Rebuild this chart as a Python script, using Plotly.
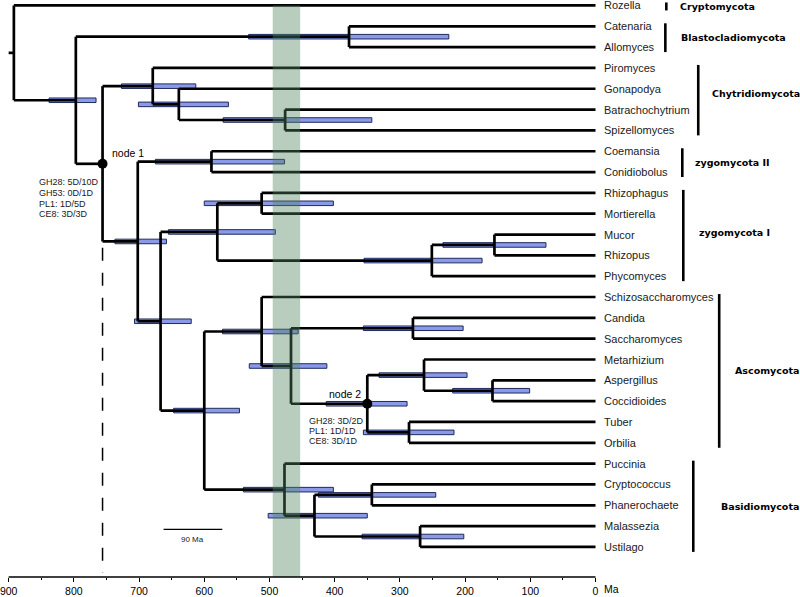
import plotly.graph_objects as go

# ---------------- data ----------------
leaves = ["Rozella", "Catenaria", "Allomyces", "Piromyces", "Gonapodya",
          "Batrachochytrium", "Spizellomyces", "Coemansia", "Conidiobolus",
          "Rhizophagus", "Mortierella", "Mucor", "Rhizopus", "Phycomyces",
          "Schizosaccharomyces", "Candida", "Saccharomyces", "Metarhizium",
          "Aspergillus", "Coccidioides", "Tuber", "Orbilia", "Puccinia",
          "Cryptococcus", "Phanerochaete", "Malassezia", "Ustilago"]

node_names = ["root", "A", "Blasto", "node1", "Chytrid", "GBS", "BS", "B", "CoCo",
              "C", "D", "E", "F", "G", "H", "I", "J", "K", "node2", "M", "N",
              "O", "P", "Q", "R", "S"]
node_children = [
    ("Rozella", "A"), ("Blasto", "node1"), ("Catenaria", "Allomyces"),
    ("Chytrid", "B"), ("Piromyces", "GBS"), ("Gonapodya", "BS"),
    ("Batrachochytrium", "Spizellomyces"), ("CoCo", "C"),
    ("Coemansia", "Conidiobolus"), ("D", "H"), ("E", "F"),
    ("Rhizophagus", "Mortierella"), ("G", "Phycomyces"), ("Mucor", "Rhizopus"),
    ("I", "P"), ("Schizosaccharomyces", "J"), ("K", "node2"),
    ("Candida", "Saccharomyces"), ("M", "O"), ("Metarhizium", "N"),
    ("Aspergillus", "Coccidioides"), ("Tuber", "Orbilia"), ("Puccinia", "Q"),
    ("R", "S"), ("Cryptococcus", "Phanerochaete"), ("Malassezia", "Ustilago")]
node_age = [892, 797, 378, 756, 679, 639, 476, 702, 589, 667, 580, 512, 251, 155,
            600, 512, 467, 280, 350, 263, 158, 286, 477, 431, 343, 269]
ci_old = [None, 838, 532, None, 727, 701, 571, 737, 675, 707, 655, 600, 355, 234,
          647, 572, 531, 356, 413, 332, 219, 356, 540, 502, 425, 358]
ci_young = [None, 766, 225, None, 613, 563, 343, 658, 477, 620, 491, 402, 174, 76,
            546, 456, 412, 203, 289, 197, 101, 217, 402, 350, 245, 202]
leaf_age = 0
root_stem_age = 900
band_ages = [495, 453]
scale_bar_ma = 90

clade_names = ["Cryptomycota", "Blastocladiomycota", "Chytridiomycota",
               "zygomycota II", "zygomycota I", "Ascomycota", "Basidiomycota"]
clade_first = ["Rozella", "Catenaria", "Piromyces", "Coemansia", "Rhizophagus",
               "Schizosaccharomyces", "Puccinia"]
clade_last = ["Rozella", "Allomyces", "Spizellomyces", "Conidiobolus", "Phycomyces",
              "Orbilia", "Ustilago"]

node1_stats = ["GH28: 5D/10D", "GH53: 0D/1D", "PL1: 1D/5D", "CE8: 3D/3D"]
node2_stats = ["GH28: 3D/2D", "PL1: 1D/1D", "CE8: 3D/1D"]

tick_vals = [900, 800, 700, 600, 500, 400, 300, 200, 100, 0]
tick_text = ["900", "800", "700", "600", "500", "400", "300", "200", "100", "0"]
minor_vals = [850, 750, 650, 550, 450, 350, 250, 150, 50]

# ---------------- layout constants (pixels) ----------------
W, H = 800, 597
PX_PER_MA = 0.6537
X0_PX = 595          # pixel of 0 Ma
Y_TOP = 5.5          # pixel of first leaf
ROW = 20.97          # pixels per leaf row
AXIS_PX = 581        # pixel of time axis


def px_to_ma(px):
    return (X0_PX - px) / PX_PER_MA


def py_to_row(py):
    return (py - Y_TOP) / ROW


x_range = [px_to_ma(0), px_to_ma(W)]
y_range = [py_to_row(AXIS_PX), py_to_row(0)]

BR_X_PX = [666, 665, 698, 682, 683, 719, 693]
LBL_X_PX = [678, 679, 710, 693, 697, 733, 719]
LBL_DY_PX = [0, 0, -7, 0, -3, 0, 0]

BLUE = "#8b9ae8"
BLUE_EDGE = "#1f2a5c"
TXT = "#1a1a1a"
FONT = "Liberation Sans"

# ---------------- compute tree geometry ----------------
leaf_y = {n: i for i, n in enumerate(leaves)}
idx = {n: i for i, n in enumerate(node_names)}
ypos = dict(leaf_y)
age = {n: leaf_age for n in leaves}
for n, a in zip(node_names, node_age):
    age[n] = a


def get_y(n):
    if n in ypos:
        return ypos[n]
    c1, c2 = node_children[idx[n]]
    ypos[n] = (get_y(c1) + get_y(c2)) / 2
    return ypos[n]


for n in node_names:
    get_y(n)

lx, ly = [], []
lx += [root_stem_age, age["root"], None]
ly += [ypos["root"], ypos["root"], None]
for n, ch in zip(node_names, node_children):
    c1, c2 = ch
    lx += [age[n], age[n], None]
    ly += [ypos[c1], ypos[c2], None]
    for c in ch:
        lx += [age[n], age[c], None]
        ly += [ypos[c], ypos[c], None]

fig = go.Figure()

shapes = []
half = 2.3 / ROW
for n, o, yv in zip(node_names, ci_old, ci_young):
    if o is None:
        continue
    y = ypos[n]
    shapes.append(dict(type="rect", xref="x", yref="y", x0=o, x1=yv,
                       y0=y - half, y1=y + half, fillcolor=BLUE,
                       line=dict(color=BLUE_EDGE, width=1), layer="below"))

fig.add_trace(go.Scatter(x=lx, y=ly, mode="lines",
                         line=dict(color="black", width=2.7),
                         hoverinfo="skip", showlegend=False))

fig.add_trace(go.Scatter(x=[age["node1"], age["node1"]],
                         y=[ypos["B"] + 0.3, py_to_row(577)], mode="lines",
                         line=dict(color="black", width=1.5, dash="13px,12px"),
                         hoverinfo="skip", showlegend=False))

fig.add_trace(go.Scatter(x=[age["node1"], age["node2"]],
                         y=[ypos["node1"], ypos["node2"]], mode="markers",
                         marker=dict(color="black", size=10),
                         hoverinfo="skip", showlegend=False))

shapes.append(dict(type="rect", xref="x", yref="y", x0=band_ages[0], x1=band_ages[1],
                   y0=0, y1=y_range[0], fillcolor="rgb(80,130,93)", opacity=0.4,
                   line=dict(width=0), layer="above"))

shapes.append(dict(type="line", xref="x", yref="paper", x0=tick_vals[0], x1=tick_vals[-1],
                   y0=0, y1=0, line=dict(color="black", width=1.5)))

for i, (f, l) in enumerate(zip(clade_first, clade_last)):
    xb = px_to_ma(BR_X_PX[i])
    shapes.append(dict(type="line", xref="x", yref="y", x0=xb, x1=xb,
                       y0=leaf_y[f] - 3 / ROW, y1=leaf_y[l] + 5 / ROW,
                       line=dict(color="black", width=2.6)))

sb_x0 = px_to_ma(162)
sb_y = py_to_row(533)
shapes.append(dict(type="line", xref="x", yref="y", x0=sb_x0, x1=sb_x0 - scale_bar_ma,
                   y0=sb_y, y1=sb_y, line=dict(color="black", width=1.2)))

annotations = []
for n in leaves:
    annotations.append(dict(x=px_to_ma(602), y=leaf_y[n], xref="x", yref="y",
                            text=n, showarrow=False, xanchor="left", yanchor="middle",
                            font=dict(family=FONT, size=11, color=TXT)))

for i, name in enumerate(clade_names):
    f, l = clade_first[i], clade_last[i]
    ym = (leaf_y[f] - 3 / ROW + leaf_y[l] + 5 / ROW) / 2 + LBL_DY_PX[i] / ROW
    annotations.append(dict(x=px_to_ma(LBL_X_PX[i]), y=ym, xref="x", yref="y",
                            text="<b>" + name + "</b>", showarrow=False,
                            xanchor="left", yanchor="middle",
                            font=dict(family="DejaVu Sans", size=9.5, color="black")))

annotations.append(dict(x=px_to_ma(108), y=py_to_row(154), xref="x", yref="y",
                        text="node 1", showarrow=False, xanchor="left", yanchor="middle",
                        font=dict(family=FONT, size=10.5, color="black")))
for k, s in enumerate(node1_stats):
    annotations.append(dict(x=px_to_ma(35), y=py_to_row(183.5 + 10.8 * k), xref="x", yref="y",
                            text=s, showarrow=False, xanchor="left", yanchor="middle",
                            font=dict(family=FONT, size=9, color=TXT)))
annotations.append(dict(x=px_to_ma(326), y=py_to_row(397), xref="x", yref="y",
                        text="node 2", showarrow=False, xanchor="left", yanchor="middle",
                        font=dict(family=FONT, size=10.5, color="black")))
for k, s in enumerate(node2_stats):
    annotations.append(dict(x=px_to_ma(306), y=py_to_row(423.5 + 10.5 * k), xref="x", yref="y",
                            text=s, showarrow=False, xanchor="left", yanchor="middle",
                            font=dict(family=FONT, size=9, color=TXT)))

annotations.append(dict(x=sb_x0 - scale_bar_ma / 2, y=py_to_row(543), xref="x", yref="y",
                        text=f"{scale_bar_ma} Ma", showarrow=False, xanchor="center",
                        yanchor="middle", font=dict(family=FONT, size=8, color=TXT)))
annotations.append(dict(x=px_to_ma(601), y=0, xref="x", yref="paper", text="Ma",
                        showarrow=False, xanchor="left", yanchor="top", yshift=-4,
                        font=dict(family=FONT, size=10.5, color="black")))

fig.update_layout(
    width=W, height=H, margin=dict(l=0, r=0, t=0, b=H - AXIS_PX),
    plot_bgcolor="white", paper_bgcolor="white",
    shapes=shapes, annotations=annotations, showlegend=False,
    xaxis=dict(range=x_range, showgrid=False, zeroline=False, showline=False,
               tickvals=tick_vals, ticktext=tick_text, ticks="outside",
               ticklen=4, tickwidth=1.3, tickcolor="black",
               ticklabeloverflow="allow",
               tickfont=dict(family=FONT, size=10.5, color="black"),
               minor=dict(tickvals=minor_vals, ticks="outside", ticklen=2,
                          tickwidth=1, tickcolor="black"),
               fixedrange=True),
    yaxis=dict(range=y_range, visible=False, fixedrange=True),
)

fig.write_html("out.html", config={"displayModeBar": False},
               post_script="document.body.style.margin='0';document.body.style.overflow='hidden';")
